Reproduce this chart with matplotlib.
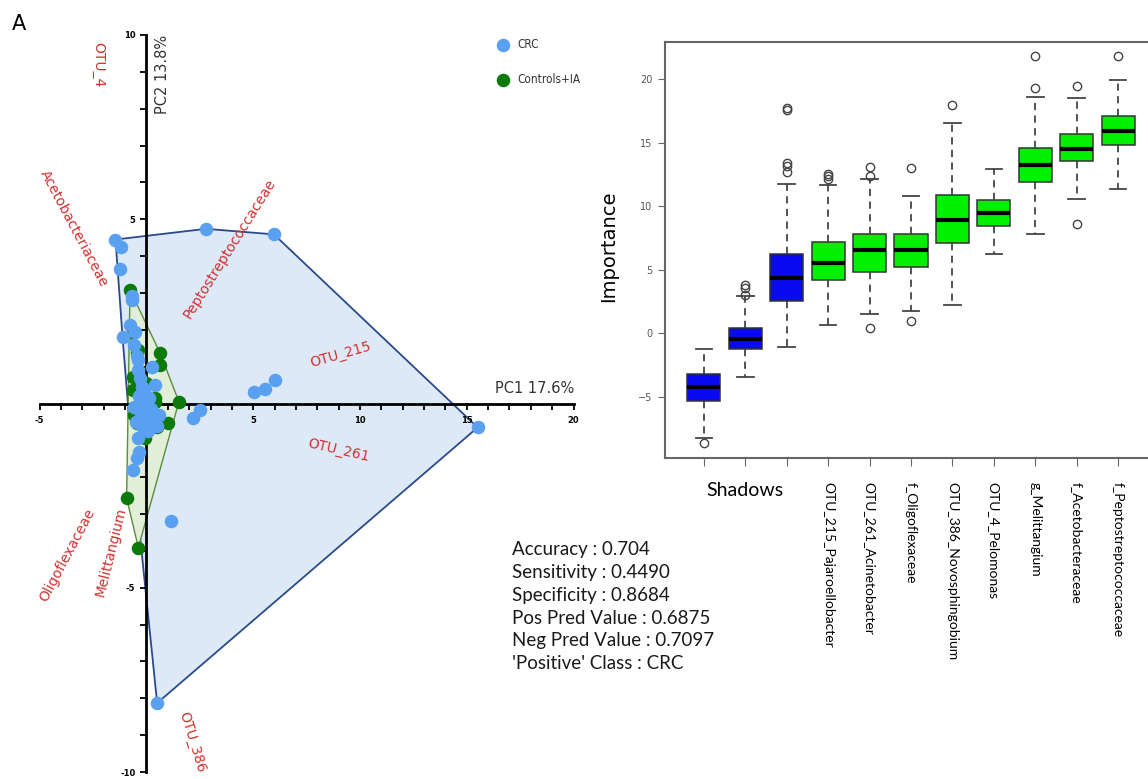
#!/usr/bin/env python
# encoding: utf-8

import numpy as np
import matplotlib
matplotlib.use("Agg")
from matplotlib import pyplot as plt

# --- PCA scores (PC1, PC2) -------------------------------------------------
crc_x = [-1.45, -1.18, -1.24, 2.78, 5.97,
         -0.69, -0.69, -0.77, -0.54, -1.12,
         -0.60, -0.45, -0.38, -0.38, 0.24, 0.40, -0.30, -0.20, -0.10, -0.35, 0.10, -0.25,
         5.04, 5.54, 6.01, 15.51, 2.50, 2.19,
         -0.60, -0.30, 0.20, -0.10, 0.30, 0.50, -0.20, 0.05, -0.50, 0.60,
         -0.38, -0.34, -0.46, -0.62, 1.13, 0.50]
crc_y = [4.45, 4.25, 3.64, 4.74, 4.59,
         2.92, 2.81, 2.13, 1.95, 1.80,
         1.60, 1.30, 1.18, 0.91, 1.00, 0.50, 0.70, 0.45, 0.30, 0.20, 0.15, 0.05,
         0.32, 0.38, 0.64, -0.65, -0.18, -0.40,
         -0.10, -0.20, -0.15, -0.35, -0.45, -0.60, -0.60, -0.75, -0.50, -0.30,
         -0.94, -1.31, -1.49, -1.80, -3.19, -8.13]

ctrl_x = [-0.77, -0.62, -0.38, -0.46, 0.63, 0.63, 0.00, -0.62, -0.62, 1.52, 0.40, 0.40,
          1.02, -0.07, 0.48, -0.46, -0.60, -0.93, -0.38]
ctrl_y = [3.08, 1.90, 1.45, 1.36, 1.38, 1.04, 0.55, 0.73, 0.37, 0.05, 0.05, 0.14,
          -0.54, -0.93, -0.63, -0.54, -0.30, -2.57, -3.91]

# loading names written on the biplot
load_names = ["OTU_4", "Acetobacteriaceae", "Peptostreptococcaceae", "OTU_215",
              "OTU_261", "Oligoflexaceae", "Melittangium", "OTU_386"]
load_x = [-2.27, -3.40, 3.89, 9.11, 9.00, -3.72, -1.66, 2.13]
load_y = [9.19, 4.76, 4.21, 1.32, -1.28, -4.11, -4.03, -9.19]
load_rot = [-90, -62, 58, 16, -13, 62, 76, -73]

# --- Boruta importance summaries --------------------------------------------
feat_names = ["shadowMin", "shadowMean", "shadowMax",
              "OTU_215_Pajaroellobacter", "OTU_261_Acinetobacter",
              "f_Oligoflexaceae", "OTU_386_Novosphingobium", "OTU_4_Pelomonas",
              "g_Melittangium", "f_Acetobacteraceae", "f_Peptostreptococcaceae"]
tick_labels = ["", "Shadows", ""] + feat_names[3:]
decision = ["shadow"] * 3 + ["confirmed"] * 8
imp_q1 = [-5.33, -1.24, 2.57, 4.22, 4.86, 5.26, 7.10, 8.42, 11.89, 13.60, 14.79]
imp_med = [-4.23, -0.46, 4.38, 5.57, 6.55, 6.58, 8.95, 9.47, 13.29, 14.55, 15.97]
imp_q3 = [-3.20, 0.44, 6.28, 7.21, 7.83, 7.84, 10.92, 10.47, 14.60, 15.71, 17.10]
imp_wlo = [-8.21, -3.48, -1.05, 0.66, 1.52, 1.76, 2.21, 6.26, 7.84, 10.58, 11.37]
imp_whi = [-1.26, 2.95, 11.79, 11.66, 12.16, 10.79, 16.58, 12.90, 18.60, 18.55, 19.92]
imp_fliers = [[-8.6], [3.0, 3.55, 3.8], [12.7, 13.2, 13.4, 17.55, 17.76],
              [12.16, 12.37, 12.58], [0.39, 12.37, 13.1], [0.97, 13.03], [18.0],
              [], [19.29, 21.8], [8.6, 19.5], [21.8]]

metrics = ["Accuracy : 0.704", "Sensitivity : 0.4490", "Specificity : 0.8684",
           "Pos Pred Value : 0.6875", "Neg Pred Value : 0.7097",
           "'Positive' Class : CRC"]

W, H = 1148., 779.
CRC_COL = "#5aa0f0"
CTRL_COL = "#0b7a0b"
RED = "#d23030"


def hull(xs, ys):
    # monotone chain convex hull
    pts = sorted(set(zip(xs, ys)))

    def cross(o, a, b):
        return (a[0] - o[0]) * (b[1] - o[1]) - (a[1] - o[1]) * (b[0] - o[0])

    lower, upper = [], []
    for p in pts:
        while len(lower) >= 2 and cross(lower[-2], lower[-1], p) <= 0:
            lower.pop()
        lower.append(p)
    for p in reversed(pts):
        while len(upper) >= 2 and cross(upper[-2], upper[-1], p) <= 0:
            upper.pop()
        upper.append(p)
    h = lower[:-1] + upper[:-1]
    return [p[0] for p in h], [p[1] for p in h]


fig = plt.figure(figsize=(W / 100, H / 100), dpi=100)

# ---------------------------------------------------------------- biplot
ax = fig.add_axes([39.7 / W, 7 / H, 533.8 / W, 737 / H])

hx, hy = hull(crc_x, crc_y)
ax.fill(hx, hy, facecolor="#dde9f6", edgecolor="#2a4a8a", lw=1.3, zorder=1)
gx, gy = hull(ctrl_x, ctrl_y)
ax.fill(gx, gy, facecolor="#e2efd8", edgecolor="#5c8c3c", lw=1.0, zorder=1.1)

sc_ctrl = ax.scatter(ctrl_x, ctrl_y, s=95, c=CTRL_COL, lw=0, zorder=3,
                     label="Controls+IA")
sc_crc = ax.scatter(crc_x, crc_y, s=95, c=CRC_COL, lw=0, zorder=3.1,
                    label="CRC")

for name, x, y, r in zip(load_names, load_x, load_y, load_rot):
    ax.text(x, y, name, color=RED, fontsize=10, rotation=r,
            ha="center", va="center", rotation_mode="anchor")

ax.set_xlim(-5, 20)
ax.set_ylim(-10, 10)
ax.patch.set_alpha(0)
for s in ["top", "right"]:
    ax.spines[s].set_visible(False)
for s in ["left", "bottom"]:
    ax.spines[s].set_position(("data", 0))
    ax.spines[s].set_linewidth(2)
    ax.spines[s].set_zorder(2)

ax.set_xticks([-5, 0, 5, 10, 15, 20])
ax.set_xticklabels(["-5", "", "5", "10", "15", "20"], fontsize=6, fontweight="bold")
ax.set_xticks(np.arange(-5, 21), minor=True)
ax.set_yticks([-10, -5, 0, 5, 10])
ax.set_yticklabels(["-10", "-5", "", "5", "10"], fontsize=6, fontweight="bold")
ax.set_yticks(np.arange(-10, 11), minor=True)
ax.tick_params(which="both", direction="out", length=4, width=1.3)
ax.tick_params(axis="x", pad=5)
ax.tick_params(axis="y", pad=4)

ax.text(20.05, 0.2, "PC1 17.6%", ha="right", va="bottom", fontsize=10.5,
        color="#333333")
ax.text(0.4, 10, "PC2 13.8%", ha="left", va="top", rotation=90, fontsize=10.5,
        color="#333333")

fig.legend(handles=[sc_crc, sc_ctrl], loc="upper left",
           bbox_to_anchor=(489 / W, 1 - 32 / H), frameon=False,
           scatterpoints=1, handlelength=1.4, handletextpad=0.5,
           labelspacing=1.9, borderpad=0,
           prop=dict(size=8.5, stretch="condensed"), labelcolor="#333333")

fig.text(19 / W, 1 - 24 / H, "A", fontsize=15, ha="center", va="center")

for i, line in enumerate(metrics):
    fig.text(511.7 / W, 1 - (550 + 22.7 * i) / H, line, fontsize=13.5,
             family="Lato", ha="left", va="center", color="#1a1a1a")

# ---------------------------------------------------------------- boxplot
ax2 = fig.add_axes([665 / W, 1 - 458 / H, 492 / W, 416 / H])

stats = []
for i in range(len(feat_names)):
    stats.append(dict(label=tick_labels[i], med=imp_med[i], q1=imp_q1[i],
                      q3=imp_q3[i], whislo=imp_wlo[i], whishi=imp_whi[i],
                      fliers=imp_fliers[i]))

bp = ax2.bxp(stats, positions=range(1, len(stats) + 1), widths=0.8,
             capwidths=0.4, patch_artist=True, showfliers=True,
             boxprops=dict(edgecolor="#333333", lw=1.1),
             medianprops=dict(color="black", lw=3),
             whiskerprops=dict(color="#444444", ls=(0, (4, 3)), lw=1.3),
             capprops=dict(color="#444444", lw=1.3),
             flierprops=dict(marker="o", mfc="none", mec="#444444", ms=6, mew=1))
for patch, d in zip(bp["boxes"], decision):
    patch.set_facecolor("#0a0af0" if d == "shadow" else "#00f000")

ax2.set_xlim(0.06, 11.94)
ax2.set_ylim(-9.82, 22.94)
ax2.set_yticks([-5, 0, 5, 10, 15, 20])
ax2.tick_params(axis="y", length=5, color="#666666", labelsize=7,
                labelcolor="#555555", pad=4)
ax2.tick_params(axis="x", length=6, color="#666666", pad=11)
ax2.set_xticks(range(1, len(stats) + 1))
ax2.set_xticklabels(tick_labels)
for lbl, name in zip(ax2.get_xticklabels(), tick_labels):
    lbl.set_family("Lato")
    if name == "Shadows":
        lbl.set_fontsize(14)
        lbl.set_va("top")
    else:
        lbl.set_fontsize(10)
        lbl.set_rotation(-90)
        lbl.set_va("top")
        lbl.set_ha("center")
for s in ax2.spines.values():
    s.set_color("#666666")
    s.set_linewidth(1.5)

ax2.set_ylabel("Importance", fontsize=14)
ax2.yaxis.set_label_coords(-0.096, 0.51)

fig.savefig("out.png", dpi=100)
